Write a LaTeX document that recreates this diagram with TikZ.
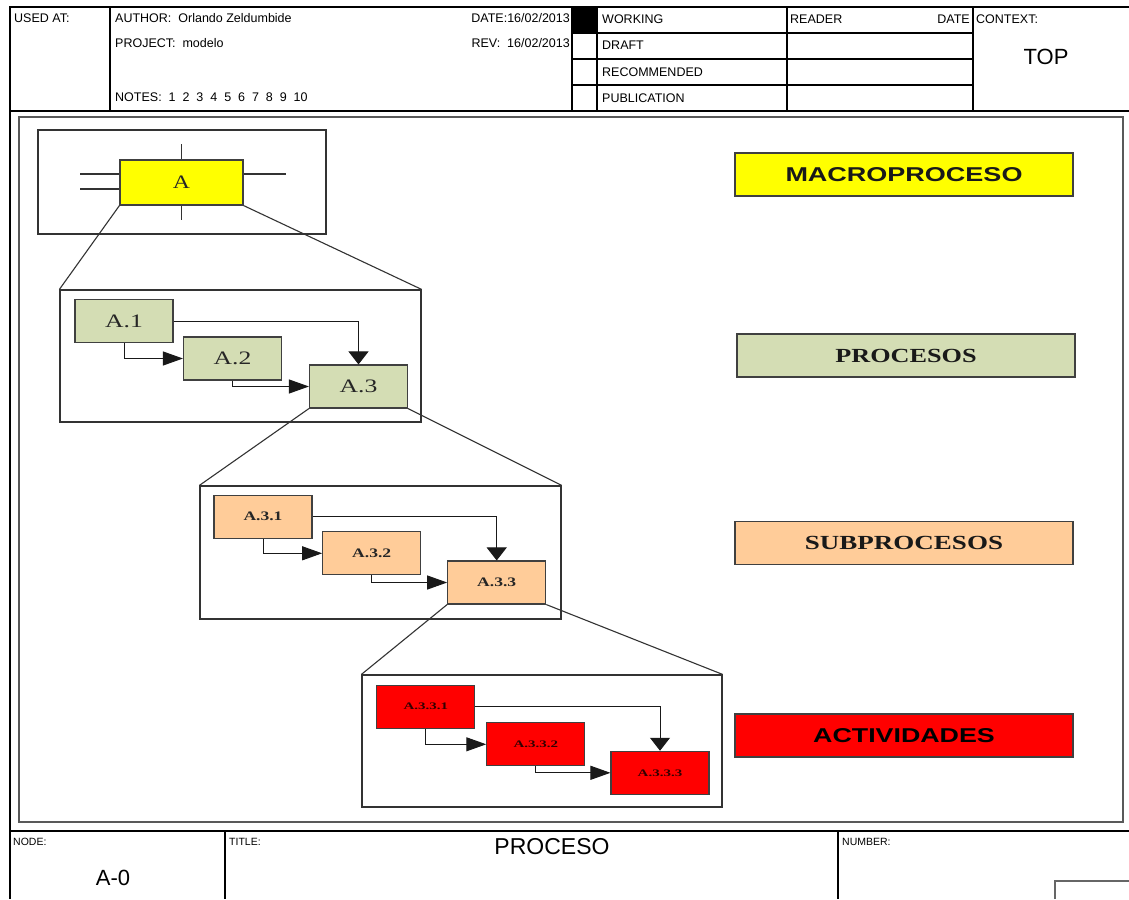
\documentclass[tikz,border=0pt]{standalone}
\usepackage{fontspec}
\setmainfont{Liberation Serif}
\setsansfont{Liberation Sans}
\usetikzlibrary{arrows.meta}

\definecolor{macro}{HTML}{FFFF00}
\definecolor{proc}{HTML}{D4DDB4}
\definecolor{subproc}{HTML}{FFCC99}
\definecolor{activ}{HTML}{FF0000}
\newcommand{\wide}[2][1.35]{\scalebox{#1}[1]{#2}}

\begin{document}
\begin{tikzpicture}[x=1pt,y=-1pt,
    rule/.style={draw=black, line width=1.2pt},
    hdr/.style={font=\fontsize{12.5}{14}\selectfont\sffamily, inner sep=0pt, anchor=base west},
    ftr/.style={font=\fontsize{10.5}{12}\selectfont\sffamily, inner sep=0pt, anchor=base west},
    frame/.style={draw=black!80, line width=1.2pt, inner sep=0pt},
    zoomline/.style={draw=black!80, line width=1.1pt},
    tick/.style={draw=black!80, line width=1.2pt},
    box/.style={draw=black!75, line width=1.1pt, minimum width=98pt, minimum height=43pt, inner sep=0pt, text=black!85},
    legend/.style={draw=black!75, line width=1.6pt, minimum width=338pt, minimum height=43pt, inner sep=0pt, text=black!90},
    flowh/.style={draw=black!90, line width=1pt, -{Triangle[length=20pt,width=14pt]}},
    flowv/.style={draw=black!90, line width=1pt, -{Triangle[length=13pt,width=20pt]}}]
  \useasboundingbox (0,0) rectangle (1129,899);
  \fill[white] (0,0) rectangle (1129,899);

  % sheet lines
  \draw[rule] (1129,7) -- (10,7) -- (10,899);
  \draw[rule] (10,111) -- (1129,111);
  \draw[rule] (10,831) -- (1129,831);
  \foreach \x in {110,572,597,787,973}
    \draw[rule] (\x,7) -- (\x,111);
  \foreach \y in {33,59,85}
    \draw[rule] (572,\y) -- (973,\y);
  \fill[black] (573,8) rectangle (597,33);
  \foreach \x in {225,838}
    \draw[rule] (\x,831) -- (\x,899);
  \draw[line width=1.6pt, draw=black!60] (1055,899) -- (1055,881) -- (1129,881);
  \draw[line width=1.6pt, draw=black!65] (19,117) rectangle (1123,822);

  % header texts
  \node[hdr] (usedat) at (14,22.5) {USED AT:};
  \node[hdr] (author) at (115,22.5) {AUTHOR:\ \ Orlando Zeldumbide};
  \node[hdr] (project) at (115,48) {PROJECT:\ \ modelo};
  \node[hdr] (notes) at (115,101.5) {NOTES:\ \ 1\ \ 2\ \ 3\ \ 4\ \ 5\ \ 6\ \ 7\ \ 8\ \ 9\ \ 10};
  \node[hdr, anchor=base east] (date) at (570,22.5) {DATE:16/02/2013};
  \node[hdr, anchor=base east] (rev) at (570,48) {REV:\ \ 16/02/2013};
  \node[hdr] (working) at (602,24) {WORKING};
  \node[hdr] (draft) at (602,50) {DRAFT};
  \node[hdr] (recom) at (602,76) {RECOMMENDED};
  \node[hdr] (public) at (602,102) {PUBLICATION};
  \node[hdr] (reader) at (790,24) {READER};
  \node[hdr, anchor=base east] (rdate) at (970,24) {DATE};
  \node[hdr] (context) at (976,24) {CONTEXT:};
  \node[font=\fontsize{22}{24}\selectfont\sffamily, inner sep=0pt] (top) at (1046,57) {TOP};

  % footer texts
  \node[ftr] (nodelbl) at (13,845) {NODE:};
  \node[ftr] (titlelbl) at (229,845) {TITLE:};
  \node[ftr] (numberlbl) at (842,845) {NUMBER:};
  \node[font=\fontsize{22}{24}\selectfont\sffamily, inner sep=0pt] (nodeno) at (113,878) {A-0};
  \node[font=\fontsize{23}{25}\selectfont\sffamily, inner sep=0pt] (title) at (552,847) {PROCESO};

  % frames
  \node[frame, minimum width=288pt, minimum height=104pt] (fA) at (182,182) {};
  \node[frame, minimum width=361pt, minimum height=132pt] (fP) at (240.5,356) {};
  \node[frame, minimum width=361pt, minimum height=133pt] (fS) at (380.5,552.5) {};
  \node[frame, minimum width=360pt, minimum height=132pt] (fT) at (542,741) {};

  % macroproceso
  \node[box, fill=macro, minimum width=123pt, minimum height=45pt, font=\fontsize{19}{20}\selectfont] (A) at (181.5,182.5) {\wide[1.25]{A}};
  \draw[tick] (A.north) -- ++(0,-15);
  \draw[tick] (A.south) -- ++(0,14);
  \draw[tick] (A.west |- 0,174) -- (80,174);
  \draw[tick] (A.west |- 0,189) -- (80,189);
  \draw[tick] (A.east |- 0,174) -- (286,174);
  \draw[zoomline] (A.south west) -- (fP.north west);
  \draw[zoomline] (A.south east) -- (fP.north east);

  % procesos
  \node[box, fill=proc, font=\fontsize{19}{20}\selectfont] (A1) at (124,321) {\wide{A.1}};
  \node[box, fill=proc, font=\fontsize{19}{20}\selectfont] (A2) at (232.5,358.5) {\wide{A.2}};
  \node[box, fill=proc, font=\fontsize{19}{20}\selectfont] (A3) at (358.5,386.5) {\wide{A.3}};
  \draw[flowv] (A1.east) -| (A3.north);
  \draw[flowh] (A1.south) |- (A2.west);
  \draw[flowh] (A2.south) |- (A3.west);
  \draw[zoomline] (A3.south west) -- (fS.north west);
  \draw[zoomline] (A3.south east) -- (fS.north east);

  % subprocesos
  \node[box, fill=subproc, font=\bfseries\fontsize{13}{15}\selectfont] (A31) at (263,516.7) {\wide{A.3.1}};
  \node[box, fill=subproc, font=\bfseries\fontsize{13}{15}\selectfont] (A32) at (371.7,553.3) {\wide{A.3.2}};
  \node[box, fill=subproc, font=\bfseries\fontsize{13}{15}\selectfont] (A33) at (496.7,582.5) {\wide{A.3.3}};
  \draw[flowv] (A31.east) -| (A33.north);
  \draw[flowh] (A31.south) |- (A32.west);
  \draw[flowh] (A32.south) |- (A33.west);
  \draw[zoomline] (A33.south west) -- (fT.north west);
  \draw[zoomline] (A33.south east) -- (fT.north east);

  % actividades
  \node[box, fill=activ, text=black!80!red, font=\bfseries\fontsize{10}{12}\selectfont] (A331) at (425.8,706.7) {\wide[1.5]{A.3.3.1}};
  \node[box, fill=activ, text=black!80!red, font=\bfseries\fontsize{10}{12}\selectfont] (A332) at (535.8,744.3) {\wide[1.5]{A.3.3.2}};
  \node[box, fill=activ, text=black!80!red, font=\bfseries\fontsize{10}{12}\selectfont] (A333) at (660,772.8) {\wide[1.5]{A.3.3.3}};
  \draw[flowv] (A331.east) -| (A333.north);
  \draw[flowh] (A331.south) |- (A332.west);
  \draw[flowh] (A332.south) |- (A333.west);

  % legend
  \node[legend, fill=macro, font=\sffamily\bfseries\fontsize{20}{22}\selectfont] (lmacro) at (904,174.5) {\wide{MACROPROCESO}};
  \node[legend, fill=proc, font=\bfseries\fontsize{20}{22}\selectfont] (lproc) at (906,355.5) {\wide[1.31]{PROCESOS}};
  \node[legend, fill=subproc, font=\bfseries\fontsize{20}{22}\selectfont] (lsub) at (904,543) {\wide{SUBPROCESOS}};
  \node[legend, fill=activ, text=black, font=\sffamily\bfseries\fontsize{20}{22}\selectfont] (lact) at (904,735.5) {\wide[1.34]{ACTIVIDADES}};
\end{tikzpicture}
\end{document}
